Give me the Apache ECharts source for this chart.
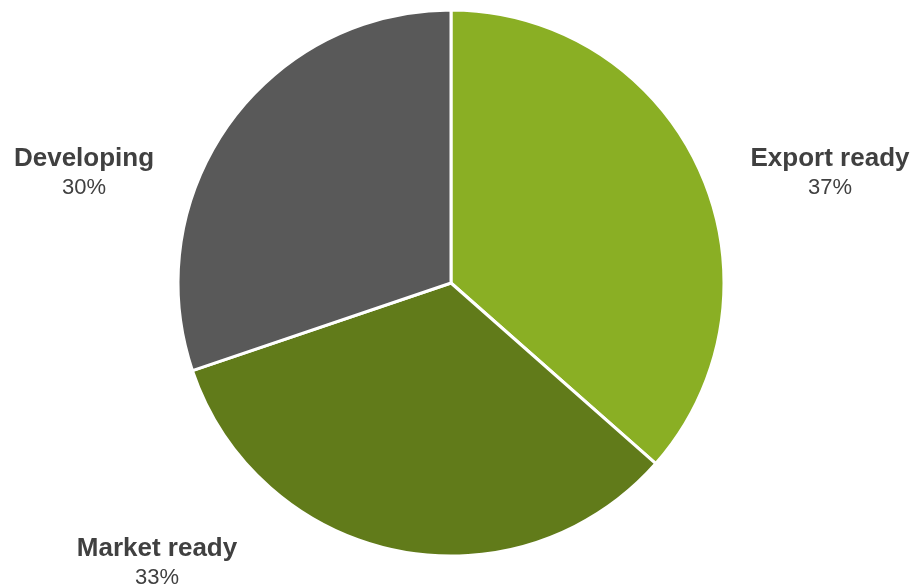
<!DOCTYPE html>
<html>
<head>
<meta charset="utf-8">
<script src="https://cdn.jsdelivr.net/npm/echarts@6/dist/echarts.min.js"></script>
<style>
html,body{margin:0;padding:0;background:#fff;}
#chart{width:915px;height:588px;}
</style>
</head>
<body>
<div id="chart"></div>
<script>
const categories = ['Export ready', 'Market ready', 'Developing'];
const values = [36.5, 33.3, 30.2];
const sliceColors = ['#8AAF24', '#617B1A', '#595959'];
const labelPositions = [[830, 173], [157, 563], [84, 173]];

const chart = echarts.init(document.getElementById('chart'));
chart.setOption({
  animation: false,
  series: [{
    type: 'pie',
    center: [451, 283],
    radius: 273,
    startAngle: 90,
    clockwise: true,
    data: categories.map((c, i) => ({ name: c, value: values[i], itemStyle: { color: sliceColors[i] } })),
    itemStyle: { borderColor: '#ffffff', borderWidth: 3 },
    label: {
      show: true,
      position: 'outside',
      overflow: 'none',
      bleedMargin: 0,
      edgeDistance: 0,
      formatter: p => '{b|' + p.name + '}\n{c|' + Math.round(p.value) + '%}',
      rich: {
        b: { fontFamily: '"Liberation Sans", Arial, sans-serif', fontSize: 26, fontWeight: 'bold', color: '#404040', lineHeight: 29, align: 'center', overflow: 'none' },
        c: { fontFamily: '"Liberation Sans", Arial, sans-serif', fontSize: 22, color: '#404040', lineHeight: 29, align: 'center', overflow: 'none' }
      }
    },
    labelLine: { show: false },
    labelLayout: function (params) {
      const pos = labelPositions[params.dataIndex];
      return { x: pos[0], y: pos[1], align: 'center', verticalAlign: 'middle' };
    },
    emphasis: { disabled: true }
  }]
});
</script>
</body>
</html>
